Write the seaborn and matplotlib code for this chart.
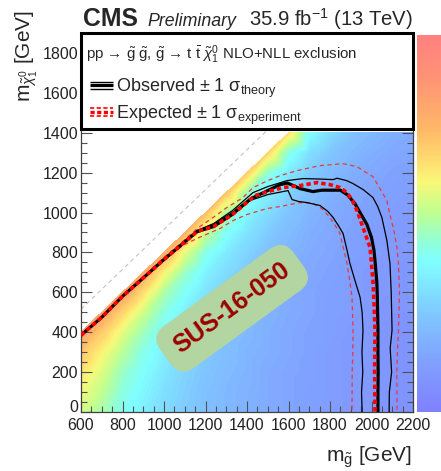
import numpy as np
import matplotlib
matplotlib.use("Agg")
import matplotlib.pyplot as plt
import matplotlib.tri as mtri
import seaborn as sns
from matplotlib.colors import LinearSegmentedColormap, LogNorm
from matplotlib.cm import ScalarMappable
from matplotlib.ticker import MultipleLocator, LogLocator, NullFormatter
from matplotlib.patches import Rectangle
from matplotlib.lines import Line2D

# ---------------- data ----------------
mgluino_grid = [600, 700, 800, 900, 1000, 1100, 1200, 1300, 1400, 1500,
                1600, 1700, 1800, 1900, 2000, 2100, 2200]
mlsp_grid = [0, 100, 200, 300, 400, 500, 600, 700, 800, 900, 1000, 1100, 1200, 1300, 1400]
# 95% CL upper limit on cross section [fb], one list per gluino mass, starting at mLSP = 0
ul_fb_columns = [
    [58, 78, 113, 189, 397],
    [37, 47, 62, 90, 163, 397],
    [21, 24, 30, 43, 67, 141, 397],
    [13.4, 15.5, 18, 22.4, 32, 54, 121, 342],
    [9.3, 10, 11.6, 13.4, 18, 24, 37, 90, 295],
    [6.9, 7.4, 8.0, 9.3, 10.8, 13.4, 19.3, 30, 67, 254],
    [5.5, 5.5, 6.0, 6.4, 7.4, 8.6, 10.8, 14.4, 22.4, 50, 219],
    [4.5, 4.5, 4.8, 5.2, 5.5, 6.4, 7.4, 9.3, 12.4, 19.3, 37, 189],
    [3.9, 3.9, 4.1, 4.1, 4.5, 4.8, 5.5, 6.4, 8.0, 10.8, 15.5, 30, 163],
    [3.3, 3.3, 3.3, 3.6, 3.6, 3.9, 4.1, 4.8, 5.5, 6.9, 9.3, 13.4, 26, 141],
    [2.9, 2.9, 2.9, 3.1, 3.1, 3.3, 3.3, 3.6, 4.1, 4.8, 6.0, 8.0, 11.6, 22.4, 121],
    [2.5, 2.5, 2.7, 2.7, 2.7, 2.9, 2.9, 3.1, 3.3, 3.6, 4.1, 5.2, 6.9, 10, 18],
    [2.3, 2.3, 2.3, 2.3, 2.5, 2.5, 2.5, 2.7, 2.9, 3.1, 3.3, 3.9, 4.8, 6.4, 9.3],
    [2.1, 2.1, 2.1, 2.1, 2.1, 2.3, 2.3, 2.3, 2.5, 2.7, 2.9, 3.1, 3.6, 4.5, 6.0],
    [2.0, 2.0, 2.0, 2.0, 2.0, 2.0, 2.1, 2.1, 2.3, 2.3, 2.5, 2.7, 3.1, 3.6, 4.5],
    [1.85, 1.85, 1.85, 1.85, 1.85, 1.85, 2.0, 2.0, 2.1, 2.1, 2.3, 2.5, 2.7, 3.1, 3.6],
    [1.85, 1.85, 1.85, 1.85, 1.85, 1.85, 1.85, 2.0, 2.0, 2.1, 2.1, 2.3, 2.5, 2.9, 3.3],
]
z_min_pb, z_max_pb = 9.55e-4, 1.51

obs_x = [600, 700, 800, 900, 1000, 1080, 1160, 1240, 1330, 1420, 1500, 1560, 1595, 1655, 1718,
         1760, 1850, 1885, 1920, 1950, 1978, 2000, 2012, 2018, 2026, 2028, 2031, 2031, 2032, 2031, 2031]
obs_y = [385, 475, 580, 672, 765, 835, 905, 935, 995, 1070, 1110, 1140, 1148, 1120, 1105,
         1112, 1112, 1088, 1045, 990, 940, 875, 810, 745, 645, 575, 410, 300, 200, 100, 0]

obs_up_x = [600, 700, 800, 900, 1000, 1080, 1160, 1240, 1330, 1429, 1500, 1593, 1670, 1750, 1815, 1834,
            1880, 1911, 1960, 2007, 2030, 2050, 2074, 2089, 2095, 2099, 2090, 2097, 2086, 2085]
obs_up_y = [385, 475, 580, 672, 765, 837, 910, 945, 1010, 1100, 1130, 1160, 1170, 1168, 1165, 1172,
            1160, 1145, 1115, 1075, 1030, 975, 860, 745, 600, 410, 320, 200, 100, 0]

obs_dn_x = [600, 700, 800, 900, 1000, 1080, 1160, 1240, 1330, 1414, 1500, 1598, 1617, 1650, 1689, 1752,
            1790, 1815, 1840, 1863, 1880, 1896, 1920, 1945, 1955, 1959, 1954, 1958, 1952, 1955]
obs_dn_y = [385, 475, 580, 672, 765, 833, 900, 925, 985, 1060, 1090, 1110, 1065, 1055, 1050, 1035,
            1005, 975, 935, 895, 820, 745, 660, 575, 500, 410, 300, 200, 100, 0]

exp_x = [600, 700, 800, 900, 1000, 1080, 1160, 1240, 1330, 1439, 1500, 1574, 1655, 1737, 1800, 1848,
         1882, 1910, 1930, 1959, 1993, 2007, 2012, 2017, 2015, 2017]
exp_y = [385, 475, 580, 672, 765, 835, 905, 930, 990, 1085, 1105, 1125, 1135, 1150, 1140, 1125,
         1100, 1055, 1010, 925, 825, 660, 550, 410, 200, 0]

exp_up_x = [600, 700, 800, 900, 1000, 1080, 1160, 1250, 1303, 1381, 1429, 1500, 1560, 1641, 1750, 1863,
            1930, 1978, 2007, 2041, 2074, 2089, 2110, 2123, 2130, 2135, 2130, 2125, 2122, 2123]
exp_up_y = [385, 475, 582, 675, 775, 845, 920, 985, 1025, 1075, 1125, 1160, 1185, 1210, 1235, 1245,
            1230, 1198, 1180, 1120, 1060, 990, 900, 820, 745, 600, 410, 300, 200, 0]

exp_dn_x = [600, 700, 800, 900, 1000, 1044, 1100, 1159, 1270, 1333, 1400, 1496, 1559, 1655, 1718, 1760,
            1800, 1825, 1848, 1865, 1882, 1895, 1906, 1911, 1910, 1907, 1906]
exp_dn_y = [385, 475, 580, 670, 762, 800, 840, 870, 920, 960, 990, 1020, 1030, 1050, 1045, 1020,
            975, 935, 895, 820, 745, 660, 575, 410, 300, 200, 0]

diag_x = [600, 1900]
diag_y = [515, 1815]

x_ticks = [600, 800, 1000, 1200, 1400, 1600, 1800, 2000, 2200]
y_ticks = [0, 200, 400, 600, 800, 1000, 1200, 1400, 1600, 1800]

# ---------------- style ----------------
sns.set_style("ticks")
plt.rcParams["font.family"] = ["Liberation Sans", "DejaVu Sans"]
plt.rcParams["mathtext.fontset"] = "custom"
plt.rcParams["mathtext.rm"] = "Liberation Sans"
plt.rcParams["mathtext.it"] = "Liberation Sans:italic"
plt.rcParams["mathtext.bf"] = "Liberation Sans:bold"
plt.rcParams["mathtext.sf"] = "Liberation Sans"
plt.rcParams["lines.scale_dashes"] = False

W, H = 441, 471
fig = plt.figure(figsize=(W / 100, H / 100), dpi=100)
fig.patch.set_facecolor("white")

L, R, B, T = 81, 413, 412, 33
ax = fig.add_axes([L / W, 1 - B / H, (R - L) / W, (B - T) / H])
ax.set_facecolor("white")

cmap = LinearSegmentedColormap.from_list("pastel_rainbow", [
    (0.00, "#8080ff"), (0.13, "#80a0ff"), (0.26, "#80c8ff"), (0.40, "#80ffff"),
    (0.45, "#90ffd8"), (0.53, "#c0ff90"), (0.61, "#f8f878"), (0.66, "#ffe070"),
    (0.75, "#ffb868"), (0.88, "#ff9474"), (1.00, "#ff8080")])

# heat map of the cross-section limits
px, py, pz = [], [], []
for mg, col in zip(mgluino_grid, ul_fb_columns):
    for i, v in enumerate(col):
        px.append(mg)
        py.append(mlsp_grid[i])
        pz.append(v)
tri = mtri.Triangulation(np.array(px, float), np.array(py, float))
logz = np.log10(np.array(pz) / 1000.0)
levels = np.linspace(np.log10(z_min_pb), np.log10(z_max_pb), 90)
ax.tricontourf(tri, logz, levels=levels, cmap=cmap, extend="both", antialiased=False, zorder=0)

# kinematic diagonal
ax.plot(diag_x, diag_y, color="#c4c4c4", lw=0.8, ls=(0, (3, 2.5)), zorder=1)

def draw(xv, yv, color, lw, dashes=None, z=3):
    sns.lineplot(x=xv, y=yv, sort=False, estimator=None, color=color, lw=lw, ax=ax, zorder=z)
    ln = ax.lines[-1]
    if dashes is not None:
        ln.set_dashes(dashes)
    ln.set_solid_capstyle("butt")

draw(exp_up_x, exp_up_y, "#e8383c", 0.9, (3, 2.5), 3)
draw(exp_dn_x, exp_dn_y, "#e8383c", 0.9, (3, 2.5), 3)
draw(obs_up_x, obs_up_y, "black", 0.9, None, 4)
draw(obs_dn_x, obs_dn_y, "black", 0.9, None, 4)
draw(obs_x, obs_y, "black", 2.3, None, 5)
draw(exp_x, exp_y, "#ff0000", 2.6, (3.2, 2.2), 6)

ax.set_xlim(600, 2200)
ax.set_ylim(0, 1900)
ax.set_xticks(x_ticks)
ax.set_yticks(y_ticks)
ax.xaxis.set_minor_locator(MultipleLocator(50))
ax.yaxis.set_minor_locator(MultipleLocator(50))
ax.tick_params(which="both", direction="in", top=True, right=True, color="#505050", width=0.8,
               labelsize=11.5, labelcolor="#222222")
ax.tick_params(which="major", length=8)
ax.tick_params(which="minor", length=4.3)
ax.tick_params(axis="x", pad=4)
ax.tick_params(axis="y", pad=2)
for s in ax.spines.values():
    s.set_color("#404040")
    s.set_linewidth(0.9)
ax.get_yticklabels()[0].set_verticalalignment("baseline")

# SUS label
ax.text(1328, 520, "SUS-16-050", rotation=36, rotation_mode="anchor", ha="center", va="center",
        fontsize=18, fontweight="bold", color="#9b0000", zorder=7,
        bbox=dict(boxstyle="round,pad=0.55,rounding_size=0.7", fc="#b3d5a1", ec="none"))

# legend box
def axy(py_):
    return (B - py_) / (B - T)

def axx(px_):
    return (px_ - L) / (R - L)

ax.add_patch(Rectangle((0, axy(129)), 1, 1 - axy(129), transform=ax.transAxes, fc="white",
                       ec="black", lw=2.2, zorder=10, clip_on=False))
ax.text(axx(86), axy(59.5),
        r"pp → $\tilde{\mathrm{g}}$ $\tilde{\mathrm{g}}$, $\tilde{\mathrm{g}}$ → t $\bar{\mathrm{t}}$ $\tilde{\chi}^{0}_{1}$ NLO+NLL exclusion",
        transform=ax.transAxes, fontsize=10.8, va="baseline", ha="left", zorder=11)
for yy, lw in [(81.5, 1.0), (85, 2.3), (88.5, 1.0)]:
    ax.add_line(Line2D([axx(90), axx(113)], [axy(yy), axy(yy)], transform=ax.transAxes,
                       color="black", lw=lw, zorder=11, solid_capstyle="butt"))
for yy, lw in [(107.5, 1.2), (111.5, 2.4), (115.5, 1.2)]:
    ax.add_line(Line2D([axx(90), axx(113)], [axy(yy), axy(yy)], transform=ax.transAxes,
                       color="#ff0000", lw=lw, zorder=11, ls=(0, (3, 1.8))))
ax.text(axx(116), axy(91.5), r"Observed ± 1 σ$_{\mathrm{theory}}$",
        transform=ax.transAxes, fontsize=13, va="baseline", ha="left", zorder=11)
ax.text(axx(116), axy(119), r"Expected ± 1 σ$_{\mathrm{experiment}}$",
        transform=ax.transAxes, fontsize=13, va="baseline", ha="left", zorder=11)

# titles
fig.text(83 / W, 1 - 26 / H, "CMS", fontsize=17.8, fontweight="bold", ha="left", va="baseline")
fig.text(147 / W, 1 - 26 / H, "Preliminary", fontsize=12.8, fontstyle="italic", ha="left", va="baseline")
fig.text(413 / W, 1 - 26 / H, r"35.9 fb$^{-1}$ (13 TeV)", fontsize=14.6, ha="right", va="baseline")

# axis titles
fig.text(412 / W, 1 - 462 / H, r"m$_{\tilde{\mathrm{g}}}$ [GeV]", fontsize=15, ha="right", va="baseline")
fig.text(27 / W, 1 - 10 / H, r"m$_{\tilde{\chi}^{0}_{1}}$ [GeV]", fontsize=15, rotation=90,
         ha="center", va="top")

# colour bar (cut at the figure edge)
cax = fig.add_axes([417 / W, 1 - 412 / H, 24 / W, 377 / H])
sm = ScalarMappable(norm=LogNorm(z_min_pb, z_max_pb), cmap=cmap)
cb = fig.colorbar(sm, cax=cax)
cb.outline.set_visible(False)
cax.yaxis.set_ticks_position("right")
cax.yaxis.set_major_locator(LogLocator(base=10))
cax.yaxis.set_minor_locator(LogLocator(base=10, subs=np.arange(2, 10)))
cax.yaxis.set_minor_formatter(NullFormatter())
cax.tick_params(which="both", direction="in", labelright=False, color="#404040", width=0.8)
cax.tick_params(which="major", length=8)
cax.tick_params(which="minor", length=4.3)

fig.savefig("out.png", dpi=100)
